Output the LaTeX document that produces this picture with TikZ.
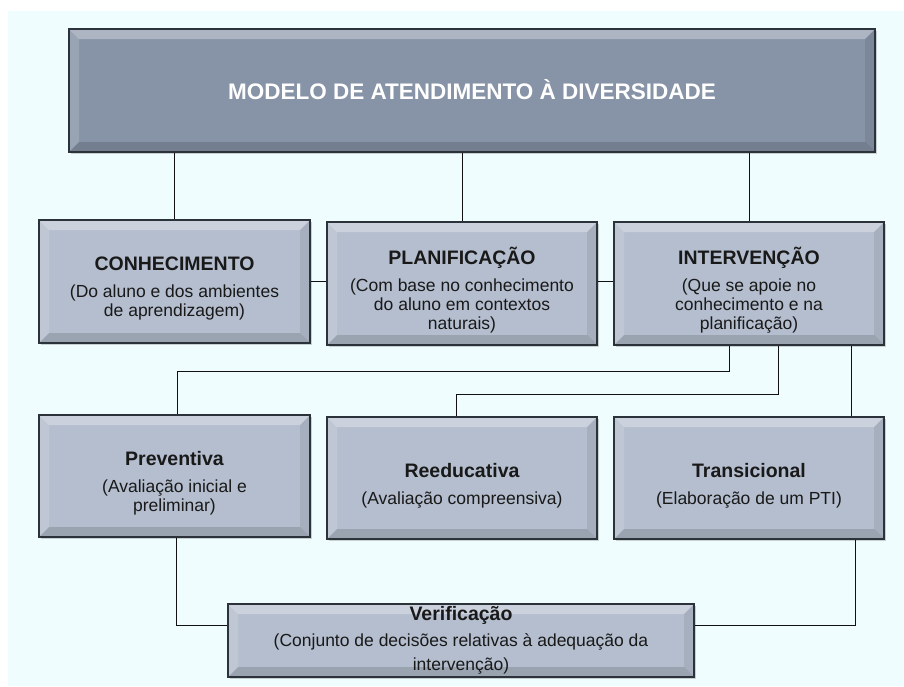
\documentclass[tikz,border=0pt]{standalone}
\usepackage{fontspec}
\setmainfont{Liberation Sans}
\usetikzlibrary{shadows}
\definecolor{bgc}{HTML}{F0FDFF}
\definecolor{topfill}{HTML}{8793A7}
\definecolor{boxfill}{HTML}{B4BECE}
\definecolor{edgec}{HTML}{2C323A}
\definecolor{linec}{HTML}{111111}
\newcommand{\ttl}[1]{{\bfseries\fontsize{19.5}{22}\selectfont #1}}
\tikzset{
  bevelbox/.style={draw=edgec, line width=1.3pt, fill=#1, inner sep=0pt,
    drop shadow={opacity=.35, shadow xshift=1.5pt, shadow yshift=-2pt},
    path picture={
      \coordinate (pnw) at (path picture bounding box.north west);
      \coordinate (pne) at (path picture bounding box.north east);
      \coordinate (psw) at (path picture bounding box.south west);
      \coordinate (pse) at (path picture bounding box.south east);
      \fill[white,opacity=.32] (pnw) -- (pne) -- ([shift={(-10pt,-10pt)}]pne) -- ([shift={(10pt,-10pt)}]pnw) -- cycle;
      \fill[white,opacity=.15] (pnw) -- ([shift={(10pt,-10pt)}]pnw) -- ([shift={(10pt,10pt)}]psw) -- (psw) -- cycle;
      \fill[black,opacity=.08] (pne) -- ([shift={(-10pt,-10pt)}]pne) -- ([shift={(-10pt,10pt)}]pse) -- (pse) -- cycle;
      \fill[black,opacity=.14] (psw) -- (pse) -- ([shift={(-10pt,10pt)}]pse) -- ([shift={(10pt,10pt)}]psw) -- cycle;
    }},
  boxtext/.style={align=center, text=black!90, inner sep=0pt, font=\fontsize{17.5}{19}\selectfont},
  wire/.style={draw=linec, line width=1pt}
}
\begin{document}
\begin{tikzpicture}[x=1pt,y=-1pt]
\useasboundingbox (0,0) rectangle (904,686);
\fill[bgc] (8,11) rectangle (904,686);

% boxes
\node[bevelbox=topfill, minimum width=806pt, minimum height=123pt] (top) at (472,90.5) {};
\node[bevelbox=boxfill, minimum width=271pt, minimum height=123pt] (conh) at (174.5,281.5) {};
\node[bevelbox=boxfill, minimum width=270pt, minimum height=123pt] (plan) at (462,283.5) {};
\node[bevelbox=boxfill, minimum width=270pt, minimum height=123pt] (int) at (749,283.5) {};
\node[bevelbox=boxfill, minimum width=271pt, minimum height=122pt] (prev) at (174.5,476) {};
\node[bevelbox=boxfill, minimum width=270pt, minimum height=122pt] (reed) at (462,478) {};
\node[bevelbox=boxfill, minimum width=270pt, minimum height=122pt] (trans) at (749,478) {};
\node[bevelbox=boxfill, minimum width=466pt, minimum height=73pt] (verif) at (461,640.5) {};

% texts
\node[boxtext, text=white, font=\bfseries\fontsize{22.5}{24}\selectfont] (topT) at ([yshift=0.5pt]top.center)
  {MODELO DE ATENDIMENTO À DIVERSIDADE};
\node[boxtext] (conhT) at ([yshift=-7pt]conh.center)
  {\ttl{CONHECIMENTO}\\[8pt](Do aluno e dos ambientes\\de aprendizagem)};
\node[boxtext] (planT) at ([yshift=-7pt]plan.center)
  {\ttl{PLANIFICAÇÃO}\\[8pt](Com base no conhecimento\\do aluno em contextos\\naturais)};
\node[boxtext] (intT) at ([yshift=-7pt]int.center)
  {\ttl{INTERVENÇÃO}\\[8pt](Que se apoie no\\conhecimento e na\\planificação)};
\node[boxtext] (prevT) at ([yshift=-7pt]prev.center)
  {\ttl{Preventiva}\\[8pt](Avaliação inicial e\\preliminar)};
\node[boxtext] (reedT) at ([yshift=-7.5pt]reed.center)
  {\ttl{Reeducativa}\\[8pt](Avaliação compreensiva)};
\node[boxtext] (transT) at ([yshift=-7.5pt]trans.center)
  {\ttl{Transicional}\\[8pt](Elaboração de um PTI)};
\node[boxtext] (verifT) at (verif.center)
  {\ttl{Verificação}\\[7pt](Conjunto de decisões relativas à adequação da\\[5pt]intervenção)};

% connectors
\draw[wire] (top.south -| conh.north) -- (conh.north);
\draw[wire] (top.south -| plan.north) -- (plan.north);
\draw[wire] (top.south -| int.north) -- (int.north);
\draw[wire] (conh.east) -- (conh.east -| plan.west);
\draw[wire] (plan.east |- conh.east) -- (int.west |- conh.east);
\draw[wire] ([xshift=-20pt]int.south) -- ++(0,26) -| ([xshift=3pt]prev.north);
\draw[wire] ([xshift=29pt]int.south) -- ++(0,49) -| ([xshift=-6pt]reed.north);
\draw[wire] ([xshift=102pt]int.south) -- ([xshift=102pt]trans.north);
\draw[wire] ([xshift=2pt]prev.south) |- ([yshift=15.5pt]verif.west);
\draw[wire] ([xshift=106pt]trans.south) |- ([yshift=15.5pt]verif.east);
\end{tikzpicture}
\end{document}
